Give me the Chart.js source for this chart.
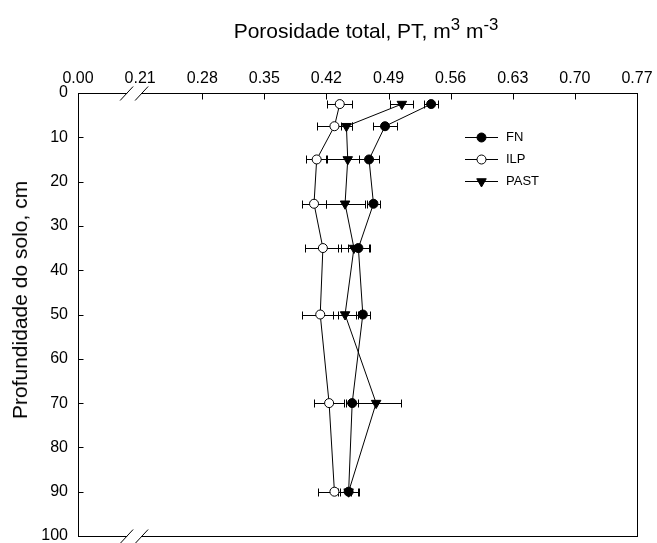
<!DOCTYPE html>
<html>
<head>
<meta charset="utf-8">
<script src="https://cdn.jsdelivr.net/npm/chart.js@4.4.1/dist/chart.umd.min.js"></script>
<style>
  body { margin: 0; background: #fff; }
  #wrap { position: relative; width: 657px; height: 543px; }
  .axis-title {
    position: absolute; white-space: nowrap; color: #000;
    font-family: "Liberation Sans", Arial, sans-serif;
  }
  #xtitle { top: 19px; left: 366px; transform: translateX(-50%); font-size: 21px; }
  #xtitle sup { font-size: 0.8em; line-height: 0; vertical-align: 0.5em; }
  #ytitle { left: 20px; top: 300px; transform: translate(-50%, -50%) rotate(-90deg); font-size: 21px; }
</style>
</head>
<body>
<div id="wrap">
  <canvas id="chart" width="657" height="543"></canvas>
  <div id="xtitle" class="axis-title">Porosidade total, PT, m<sup>3</sup> m<sup>-3</sup></div>
  <div id="ytitle" class="axis-title">Profundidade do solo, cm</div>
</div>
<script>
// profundidade (cm) e porosidade total por sistema
const depths = [2.5, 7.5, 15, 25, 35, 50, 70, 90];
const fnValues = [0.538, 0.486, 0.468, 0.473, 0.456, 0.461, 0.449, 0.445];
const fnErrors = [0.008, 0.014, 0.011, 0.007, 0.012, 0.008, 0.007, 0.012];
const ilpValues = [0.435, 0.429, 0.409, 0.406, 0.416, 0.413, 0.423, 0.429];
const ilpErrors = [0.014, 0.020, 0.012, 0.014, 0.020, 0.020, 0.017, 0.019];
const pastValues = [0.505, 0.4425, 0.444, 0.441, 0.451, 0.441, 0.476, 0.445];
const pastErrors = [0.013, 0.006, 0.024, 0.022, 0.018, 0.014, 0.028, 0.010];

// eixo x quebrado: o primeiro tick (0.14) representa o 0.00
const xTickValues = [0.14, 0.21, 0.28, 0.35, 0.42, 0.49, 0.56, 0.63, 0.70, 0.77];
const xTickLabels = ['0.00', '0.21', '0.28', '0.35', '0.42', '0.49', '0.56', '0.63', '0.70', '0.77'];
const yTickValues = [0, 10, 20, 30, 40, 50, 60, 70, 80, 90, 100];

const FONT = '"Liberation Sans", Arial, sans-serif';

function points(values) {
  return values.map((v, i) => ({ x: v, y: depths[i] }));
}

// barras de erro horizontais, desenhadas antes dos marcadores
const errorBars = {
  id: 'errorBars',
  beforeDatasetsDraw(chart) {
    const { ctx, scales: { x, y } } = chart;
    ctx.save();
    ctx.strokeStyle = '#000';
    ctx.lineWidth = 1;
    chart.data.datasets.forEach(ds => {
      ds.data.forEach((p, i) => {
        const e = ds.errors[i];
        const x0 = Math.round(x.getPixelForValue(p.x - e)) + 0.5;
        const x1 = Math.round(x.getPixelForValue(p.x + e)) + 0.5;
        const py = Math.round(y.getPixelForValue(p.y)) + 0.5;
        ctx.beginPath();
        ctx.moveTo(x0, py); ctx.lineTo(x1, py);
        ctx.moveTo(x0, py - 4); ctx.lineTo(x0, py + 4);
        ctx.moveTo(x1, py - 4); ctx.lineTo(x1, py + 4);
        ctx.stroke();
      });
    });
    ctx.restore();
  }
};

// moldura, ticks internos e marcas de quebra do eixo
const frame = {
  id: 'frame',
  beforeDatasetsDraw(chart) {
    const { ctx, chartArea: a, scales: { x, y } } = chart;
    const L = Math.round(a.left) + 0.5, R = Math.round(a.right) + 0.5;
    const T = Math.round(a.top) + 0.5, B = Math.round(a.bottom) + 0.5;
    ctx.save();
    ctx.strokeStyle = '#000';
    ctx.lineWidth = 1;
    ctx.strokeRect(L, T, R - L, B - T);

    ctx.beginPath();
    xTickValues.slice(2, -1).forEach(v => {
      const px = Math.round(x.getPixelForValue(v)) + 0.5;
      ctx.moveTo(px, T); ctx.lineTo(px, T + 6);
    });
    yTickValues.slice(1, -1).forEach(v => {
      const py = Math.round(y.getPixelForValue(v)) + 0.5;
      ctx.moveTo(L, py); ctx.lineTo(L + 5, py);
    });
    ctx.stroke();

    // quebra entre 0.00 e 0.21
    const cx = x.getPixelForValue(0.21) - 6;
    [T, B].forEach(yy => {
      ctx.fillStyle = '#fff';
      ctx.fillRect(cx - 7, yy - 1.5, 14, 3);
      ctx.beginPath();
      ctx.moveTo(cx - 14, yy + 7); ctx.lineTo(cx - 1, yy - 7);
      ctx.moveTo(cx + 1, yy + 7); ctx.lineTo(cx + 14, yy - 7);
      ctx.stroke();
    });
    ctx.restore();
  }
};

// legenda dentro do gráfico
const legendBox = {
  id: 'legendBox',
  afterDraw(chart) {
    const ctx = chart.ctx;
    ctx.save();
    ctx.font = '13px ' + FONT;
    ctx.textBaseline = 'middle';
    chart.data.datasets.forEach((ds, i) => {
      const yy = 137.5 + i * 22;
      ctx.strokeStyle = '#000';
      ctx.lineWidth = 1;
      ctx.beginPath();
      ctx.moveTo(465, yy); ctx.lineTo(498, yy);
      ctx.stroke();
      ctx.fillStyle = ds.pointBackgroundColor;
      Chart.helpers.drawPoint(ctx, {
        pointStyle: ds.pointStyle,
        radius: ds.pointRadius,
        rotation: ds.pointRotation || 0,
        borderWidth: 1
      }, 481.5, yy);
      ctx.fillStyle = '#000';
      ctx.fillText(ds.label, 506, yy);
    });
    ctx.restore();
  }
};

function series(label, values, errors, style, fill, rotation) {
  return {
    label: label,
    data: points(values),
    errors: errors,
    showLine: true,
    borderColor: '#000',
    borderWidth: 1,
    pointStyle: style,
    pointRotation: rotation,
    pointRadius: style === 'triangle' ? 5.5 : 4.5,
    pointBackgroundColor: fill,
    pointBorderColor: '#000',
    pointBorderWidth: 1
  };
}

new Chart(document.getElementById('chart'), {
  type: 'scatter',
  data: {
    datasets: [
      series('FN', fnValues, fnErrors, 'circle', '#000', 0),
      series('ILP', ilpValues, ilpErrors, 'circle', '#fff', 0),
      series('PAST', pastValues, pastErrors, 'triangle', '#000', 180)
    ]
  },
  options: {
    responsive: false,
    animation: false,
    layout: { padding: { left: 0, top: 0, right: 20, bottom: 7 } },
    plugins: { legend: { display: false }, tooltip: { enabled: false } },
    scales: {
      x: {
        type: 'linear',
        position: 'top',
        min: 0.14,
        max: 0.77,
        afterBuildTicks: s => { s.ticks = xTickValues.map(v => ({ value: v })); },
        afterFit: s => { s.height = 93; s.paddingLeft = 0; s.paddingRight = 0; },
        grid: { display: false, drawTicks: false },
        border: { display: false },
        ticks: {
          padding: 5,
          maxRotation: 0,
          autoSkip: false,
          color: '#000',
          font: { family: FONT, size: 16 },
          callback: (v, i) => xTickLabels[i]
        }
      },
      y: {
        type: 'linear',
        reverse: true,
        min: 0,
        max: 100,
        afterBuildTicks: s => { s.ticks = yTickValues.map(v => ({ value: v })); },
        afterFit: s => { s.width = 78; s.paddingTop = 0; s.paddingBottom = 0; },
        grid: { display: false, drawTicks: false },
        border: { display: false },
        ticks: {
          padding: 10,
          autoSkip: false,
          color: '#000',
          font: { family: FONT, size: 16 },
          callback: v => String(v)
        }
      }
    }
  },
  plugins: [frame, errorBars, legendBox]
});
</script>
</body>
</html>
